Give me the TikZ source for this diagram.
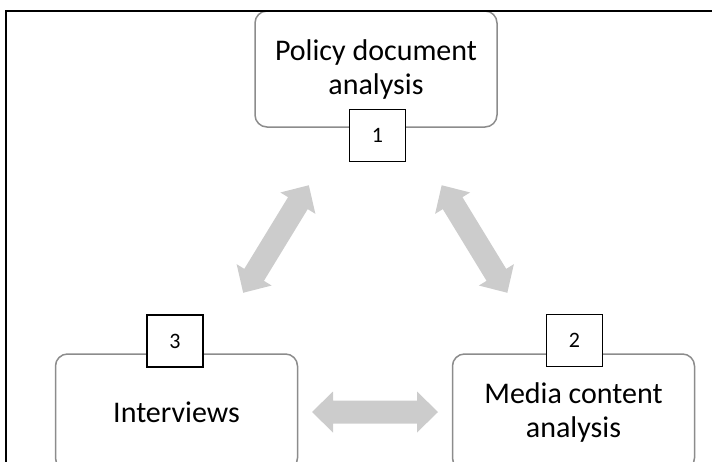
\documentclass[tikz,border=0pt]{standalone}
\usepackage{fontspec}
\setmainfont{Carlito}
\definecolor{boxgray}{HTML}{8C8C8C}
\definecolor{arrowgray}{HTML}{CCCCCC}
\tikzset{
  stage/.style={draw=boxgray, line width=1.5pt, rounded corners=12pt, fill=white,
    minimum width=242pt, minimum height=116pt, align=center, inner sep=0pt,
    font=\fontsize{30}{34}\selectfont},
  numbox/.style={draw=black, line width=1.2pt, fill=white, inner sep=0pt,
    minimum width=56pt, minimum height=52pt, font=\fontsize{22}{26}\selectfont},
  frameline/.style={draw=black, line width=2pt},
  dblarrow/.pic={
    \fill[arrowgray] (-63,0) -- (-42,-20.5) -- (-42,-11.5) -- (42,-11.5) -- (42,-20.5)
      -- (63,0) -- (42,20.5) -- (42,11.5) -- (-42,11.5) -- (-42,20.5) -- cycle;
  }
}
\begin{document}
\begin{tikzpicture}[x=1pt,y=-1pt]
\useasboundingbox (0,0) rectangle (712,461);
\clip (0,0) rectangle (712,461);

% the three stages
\node[stage] (policy) at (376,69) {Policy document\\analysis};
\node[stage] (interviews) at (176.5,412) {Interviews};
\node[stage] (media) at (573.5,412) {Media content\\analysis};

% numbered tags
\node[numbox] (n1) at (377.5,135.5) {1};
\node[numbox] (n3) at (175,341) {3};
\node[numbox] (n2) at (574.5,340.5) {2};

% outer frame (top and left edges)
\draw[frameline] (6,470) -- (6,11) -- (720,11);

% two-way links between the stages
\coordinate (linkPI) at (276,239);
\coordinate (linkPM) at (474.5,239);
\coordinate (linkIM) at (375,412);
\pic[rotate=58.6] at (linkPI) {dblarrow};
\pic[rotate=-58.6] at (linkPM) {dblarrow};
\pic at (linkIM) {dblarrow};
\end{tikzpicture}
\end{document}
